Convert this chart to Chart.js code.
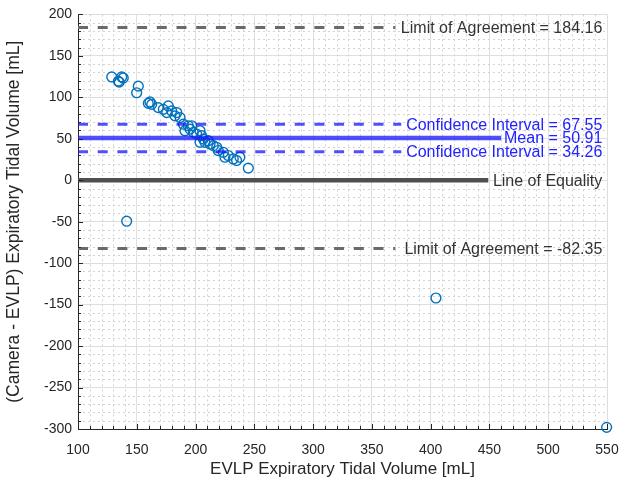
<!DOCTYPE html>
<html>
<head>
<meta charset="utf-8">
<script src="https://cdn.jsdelivr.net/npm/chart.js@4.4.1/dist/chart.umd.min.js"></script>
<style>
  html, body { margin: 0; padding: 0; background: #ffffff; }
  #wrap { width: 634px; height: 484px; }
</style>
</head>
<body>
<div id="wrap"><canvas id="chart" width="634" height="484"></canvas></div>
<script>
// Bland-Altman comparison: camera vs. EVLP expiratory tidal volume
const evlpVolume = [128.7, 134.3, 137.2, 138.5, 135.1, 151.3, 149.9, 161.2, 159.8, 162.7,
                    168.3, 172.6, 176.8, 175.5, 179.7, 182.5, 184.0, 186.8, 189.6, 193.8,
                    196.7, 195.3, 191.0, 198.1, 201.0, 203.8, 205.2, 206.6, 203.8, 208.0,
                    210.8, 212.3, 215.1, 218.0, 219.3, 223.6, 225.0, 227.8, 232.1, 234.9,
                    237.7, 244.9, 141.4, 404.5, 549.7];
const volumeDiff = [124.6, 119.5, 124.6, 123.4, 118.3, 113.5, 105.5, 94.4, 92.7, 91.5,
                    87.6, 85.5, 89.6, 81.6, 83.6, 77.6, 81.6, 75.6, 67.6, 65.7,
                    65.7, 61.6, 59.7, 57.7, 55.6, 59.7, 53.7, 49.6, 45.7, 45.7,
                    47.7, 43.7, 41.7, 39.7, 35.8, 33.7, 27.8, 29.8, 25.7, 23.8,
                    27.8, 14.6, -49.4, -142.0, -298.0];

const meanDiff = 50.91;
const ciUpper = 67.55;
const ciLower = 34.26;
const loaUpper = 184.16;
const loaLower = -82.35;
const equality = 0;

const xTickValues = [100, 150, 200, 250, 300, 350, 400, 450, 500, 550];
const yTickValues = [-300, -250, -200, -150, -100, -50, 0, 50, 100, 150, 200];

const xTitle = 'EVLP Expiratory Tidal Volume [mL]';
const yTitle = '(Camera - EVLP) Expiratory Tidal Volume [mL]';

// horizontal extent of the reference lines (x units) and where their captions end
const lineStart = 100;
const loaEnd = 370, ciEnd = 375, meanEnd = 460, equalityEnd = 449;
const captionRight = 546;

const FONT = "'Liberation Sans', Arial, Helvetica, sans-serif";
const INK = '#262626';
const BLUE_LINE = 'rgba(20,20,255,0.75)';
const BLUE_TEXT = '#2222ff';

function hLine(value, end, color, width, dash) {
  return {
    type: 'line',
    data: [{ x: lineStart, y: value }, { x: end, y: value }],
    borderColor: color,
    borderWidth: width,
    borderDash: dash,
    pointRadius: 0,
    fill: false,
    order: 0
  };
}

// dotted minor grid every 10 units, plus inward tick marks on left/bottom axes
const minorGrid = {
  id: 'minorGrid',
  beforeDatasetsDraw(chart) {
    const { ctx, chartArea: a, scales: { x, y } } = chart;
    ctx.save();
    ctx.strokeStyle = '#d2d2d2';
    ctx.lineWidth = 1;
    ctx.setLineDash([2, 3]);
    for (let v = x.min; v <= x.max; v += 10) {
      if (v % 50 === 0) continue;
      const px = Math.round(x.getPixelForValue(v)) + 0.5;
      ctx.beginPath(); ctx.moveTo(px, a.top); ctx.lineTo(px, a.bottom); ctx.stroke();
    }
    for (let v = y.min; v <= y.max; v += 10) {
      if (v % 50 === 0) continue;
      const py = Math.round(y.getPixelForValue(v)) + 0.5;
      ctx.beginPath(); ctx.moveTo(a.left, py); ctx.lineTo(a.right, py); ctx.stroke();
    }
    ctx.restore();
  },
  afterDraw(chart) {
    const { ctx, chartArea: a, scales: { x, y } } = chart;
    ctx.save();
    ctx.strokeStyle = INK;
    ctx.lineWidth = 1;
    for (let v = x.min; v <= x.max; v += 10) {
      const len = v % 50 === 0 ? 5 : 3;
      const px = Math.round(x.getPixelForValue(v)) + 0.5;
      ctx.beginPath(); ctx.moveTo(px, a.bottom); ctx.lineTo(px, a.bottom - len); ctx.stroke();
    }
    for (let v = y.min; v <= y.max; v += 10) {
      const len = v % 50 === 0 ? 5 : 3;
      const py = Math.round(y.getPixelForValue(v)) + 0.5;
      ctx.beginPath(); ctx.moveTo(a.left, py); ctx.lineTo(a.left + len, py); ctx.stroke();
    }
    ctx.restore();
  }
};

// captions for the horizontal reference lines
const captions = {
  id: 'captions',
  afterDatasetsDraw(chart) {
    const { ctx, scales: { x, y } } = chart;
    const items = [
      { text: 'Limit of Agreement = ' + loaUpper.toFixed(2), v: loaUpper, c: '#333333' },
      { text: 'Confidence Interval = ' + ciUpper.toFixed(2), v: ciUpper, c: BLUE_TEXT },
      { text: 'Mean = ' + meanDiff.toFixed(2), v: meanDiff, c: BLUE_TEXT },
      { text: 'Confidence Interval = ' + ciLower.toFixed(2), v: ciLower, c: BLUE_TEXT },
      { text: 'Line of Equality', v: equality, c: '#333333' },
      { text: 'Limit of Agreement = ' + loaLower.toFixed(2), v: loaLower, c: '#333333' }
    ];
    ctx.save();
    ctx.font = '16px ' + FONT;
    ctx.textAlign = 'right';
    ctx.textBaseline = 'middle';
    const xr = x.getPixelForValue(captionRight);
    items.forEach(it => {
      ctx.fillStyle = it.c;
      ctx.fillText(it.text, xr, y.getPixelForValue(it.v) + 1);
    });
    ctx.restore();
  }
};

const points = evlpVolume.map((v, i) => ({ x: v, y: volumeDiff[i] }));

new Chart(document.getElementById('chart'), {
  data: {
    datasets: [
      {
        type: 'scatter',
        data: points,
        borderColor: '#0072BD',
        backgroundColor: 'rgba(0,0,0,0)',
        borderWidth: 1.4,
        pointRadius: 4.9,
        pointHoverRadius: 4.9,
        clip: false,
        order: 1
      },
      hLine(loaUpper, loaEnd, '#6a6a6a', 3, [10, 9.7]),
      hLine(ciUpper, ciEnd, BLUE_LINE, 3, [10, 9.7]),
      hLine(meanDiff, meanEnd, BLUE_LINE, 4.5, []),
      hLine(ciLower, ciEnd, BLUE_LINE, 3, [10, 9.7]),
      hLine(equality, equalityEnd, '#4f4f4f', 4.5, []),
      hLine(loaLower, loaEnd, '#6a6a6a', 3, [10, 9.7])
    ]
  },
  options: {
    responsive: false,
    animation: false,
    events: [],
    layout: { padding: { top: 11, right: 27, left: 0, bottom: 0 } },
    plugins: { legend: { display: false }, tooltip: { enabled: false } },
    scales: {
      x: {
        type: 'linear',
        min: 100,
        max: 550,
        afterBuildTicks: s => { s.ticks = xTickValues.map(v => ({ value: v })); },
        afterFit: s => { s.height = 55; },
        grid: { color: '#dedede', lineWidth: 1, drawTicks: false },
        border: { display: true, color: INK, width: 1 },
        ticks: { color: INK, font: { family: FONT, size: 14 }, padding: 13, maxRotation: 0 },
        title: { display: true, text: xTitle, color: INK, font: { family: FONT, size: 17 }, padding: { top: 0, bottom: 4 } }
      },
      y: {
        type: 'linear',
        min: -300,
        max: 200,
        afterBuildTicks: s => { s.ticks = yTickValues.map(v => ({ value: v })); },
        afterFit: s => { s.width = 78; },
        grid: { color: '#dedede', lineWidth: 1, drawTicks: false },
        border: { display: true, color: INK, width: 1 },
        ticks: { color: INK, font: { family: FONT, size: 14 }, padding: 6 },
        title: { display: true, text: yTitle, color: INK, font: { family: FONT, size: 17.5 }, padding: { top: 4, bottom: 0 } }
      }
    }
  },
  plugins: [minorGrid, captions]
});
</script>
</body>
</html>
